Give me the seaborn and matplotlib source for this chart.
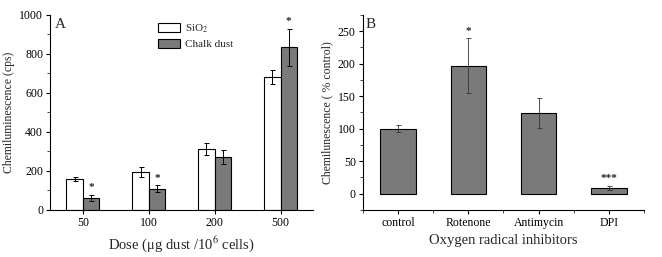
import numpy as np
import pandas as pd
import matplotlib
matplotlib.use('Agg')
import matplotlib.pyplot as plt
import seaborn as sns
from matplotlib.ticker import AutoMinorLocator, MultipleLocator

sns.set_theme(style='ticks')
plt.rcParams['font.family'] = ['Liberation Serif', 'DejaVu Serif']
plt.rcParams['mathtext.fontset'] = 'stix'

# panel A data
doses = ['50', '100', '200', '500']
sio2_mean = [160, 195, 312, 680]
sio2_err = [10, 25, 30, 35]
chalk_mean = [62, 110, 272, 835]
chalk_err = [17, 18, 35, 95]
chalk_stars = ['*', '*', '', '*']

# panel B data
inhibitors = ['control', 'Rotenone', 'Antimycin', 'DPI']
inh_mean = [100, 197, 124, 9]
inh_err = [5, 42, 23, 3]
inh_stars = ['', '*', '', '***']

fig = plt.figure(figsize=(6.62, 2.57), dpi=100)
axA = fig.add_axes([0.0755, 0.183, 0.398, 0.759])
axB = fig.add_axes([0.548, 0.183, 0.425, 0.759])

def style_axis(ax):
    sns.despine(ax=ax)
    for s in ['left', 'bottom']:
        ax.spines[s].set_linewidth(0.8)
        ax.spines[s].set_color('black')
    ax.tick_params(axis='both', which='major', direction='out', length=3,
                   width=0.8, labelsize=8.5, pad=2, colors='black')
    ax.tick_params(axis='both', which='minor', direction='out', length=2, width=0.6)
    ax.yaxis.set_minor_locator(AutoMinorLocator(2))
    ax.grid(False)
    ax.set_facecolor('white')

# ---- A ----
dfA = pd.DataFrame({
    'dose': doses * 2,
    'value': sio2_mean + chalk_mean,
    'material': ['SiO$_2$'] * 4 + ['Chalk dust'] * 4,
})
sns.barplot(data=dfA, x='dose', y='value', hue='material', order=doses,
            palette=['white', '#7a7a7a'], edgecolor='black', linewidth=0.8,
            width=0.5, errorbar=None, ax=axA)
for cont, errs in zip(axA.containers, [sio2_err, chalk_err]):
    xs = [p.get_x() + p.get_width() / 2 for p in cont.patches]
    hs = [p.get_height() for p in cont.patches]
    axA.errorbar(xs, hs, yerr=errs, fmt='none', ecolor='black',
                 elinewidth=0.7, capsize=1.8, capthick=0.7)
cont = axA.containers[1]
for p, e, st in zip(cont.patches, chalk_err, chalk_stars):
    if st:
        axA.text(p.get_x() + p.get_width() / 2, p.get_height() + e + 12, st,
                 ha='center', va='bottom', fontsize=8, fontweight='bold')
axA.set_xlim(-0.5, 3.5)
axA.set_ylim(0, 1000)
axA.yaxis.set_major_locator(MultipleLocator(200))
axA.set_ylabel('Chemiluminescence (cps)', fontsize=8.5, labelpad=3)
axA.set_xlabel('Dose (\u03bcg dust /10$^6$ cells)', fontsize=10.5, labelpad=4)
style_axis(axA)
axA.tick_params(axis='x', which='minor', bottom=False)
axA.text(0.02, 0.985, 'A', transform=axA.transAxes, fontsize=11, va='top', ha='left')
leg = axA.legend(loc='upper left', bbox_to_anchor=(0.38, 1.0), frameon=False,
                 fontsize=8, handlelength=2.0, handleheight=0.9, labelspacing=0.3,
                 handletextpad=0.4, borderaxespad=0.3)

# ---- B ----
dfB = pd.DataFrame({'inhibitor': inhibitors, 'value': inh_mean})
sns.barplot(data=dfB, x='inhibitor', y='value', order=inhibitors,
            color='#7a7a7a', saturation=1, edgecolor='black', linewidth=0.8,
            width=0.5, errorbar=None, ax=axB)
cont = axB.containers[0]
xs = [p.get_x() + p.get_width() / 2 for p in cont.patches]
hs = [p.get_height() for p in cont.patches]
axB.errorbar(xs, hs, yerr=inh_err, fmt='none', ecolor='#333333',
             elinewidth=0.6, capsize=1.8, capthick=0.6)
for x, h, e, st in zip(xs, hs, inh_err, inh_stars):
    if st:
        axB.text(x, h + e + 4, st, ha='center', va='bottom', fontsize=8,
                 fontweight='bold')
axB.set_xlim(-0.5, 3.5)
axB.set_ylim(-25, 275)
axB.yaxis.set_major_locator(MultipleLocator(50))
axB.set_ylabel('Chemilunescence ( % control)', fontsize=8.5, labelpad=3)
axB.set_xlabel('Oxygen radical inhibitors', fontsize=10.5, labelpad=4)
style_axis(axB)
axB.set_xticks(np.arange(-0.5, 4, 1.0), minor=True)
axB.text(0.01, 0.985, 'B', transform=axB.transAxes, fontsize=11, va='top', ha='left')

fig.savefig('out.png', dpi=100, facecolor='white')
